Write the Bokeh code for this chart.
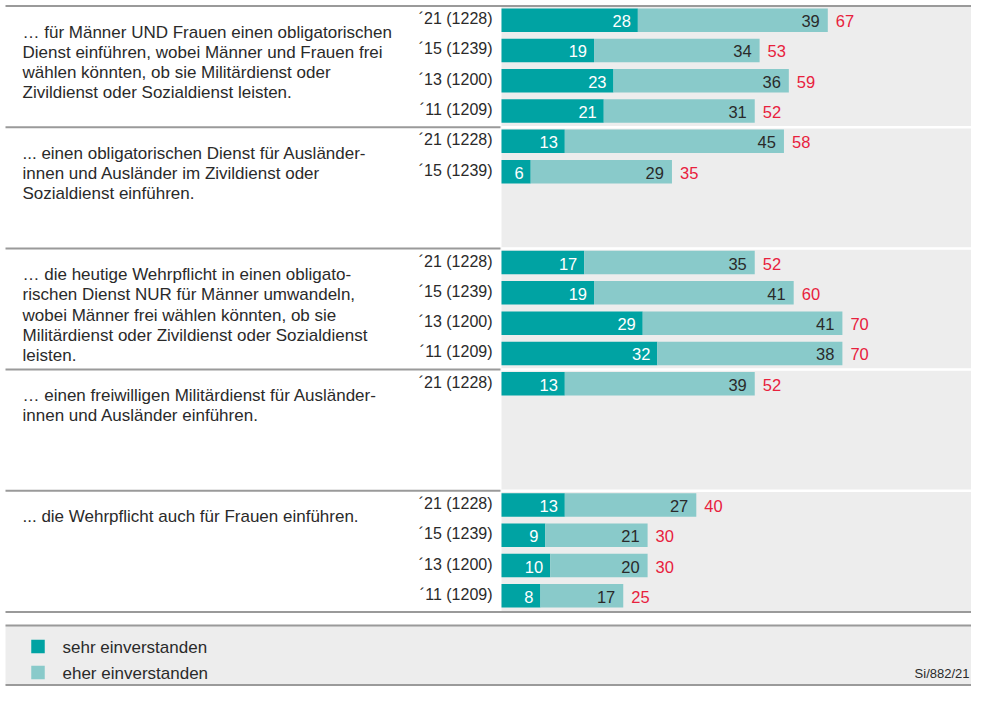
from bokeh.plotting import figure
from bokeh.models import Range1d, ColumnDataSource
from bokeh.core.properties import value
from bokeh.embed import file_html
from bokeh.resources import INLINE

# ---------------- data ----------------
questions = [
    ["… für Männer UND Frauen einen obligatorischen",
     "Dienst einführen, wobei Männer und Frauen frei",
     "wählen könnten, ob sie Militärdienst oder",
     "Zivildienst oder Sozialdienst leisten."],
    ["... einen obligatorischen Dienst für Ausländer-",
     "innen und Ausländer im Zivildienst oder",
     "Sozialdienst einführen."],
    ["… die heutige Wehrpflicht in einen obligato-",
     "rischen Dienst NUR für Männer umwandeln,",
     "wobei Männer frei wählen könnten, ob sie",
     "Militärdienst oder Zivildienst oder Sozialdienst",
     "leisten."],
    ["… einen freiwilligen Militärdienst für Ausländer-",
     "innen und Ausländer einführen."],
    ["... die Wehrpflicht auch für Frauen einführen."],
]
years = ["´21 (1228)", "´15 (1239)", "´13 (1200)", "´11 (1209)"]
sehr = [[28, 19, 23, 21], [13, 6], [17, 19, 29, 32], [13], [13, 9, 10, 8]]
eher = [[39, 34, 36, 31], [45, 29], [35, 41, 41, 38], [39], [27, 21, 20, 17]]
legend_labels = ["sehr einverstanden", "eher einverstanden"]
source_note = "Si/882/21"

# ---------------- style ----------------
W, H = 971, 686
BAR0 = 501.0          # canvas px where value 0 sits
PXU = 4.87            # px per percentage point
TOP = 5.5
P = 30.3              # slot pitch
SLOTS = 4
DARK = "#00A3A3"
LIGHT = "#89CACA"
RED = "#E8213D"
BG = "#EDEDED"
LINE = "#9A9A9A"
TXT = "#2A2A2A"
FONT = "Liberation Sans"


def X(px):
    return (px - BAR0) / PXU


p = figure(width=W, height=H, output_backend="svg", toolbar_location=None,
           x_range=Range1d(X(0), X(W)), y_range=Range1d(H, 0),
           min_border=0, outline_line_color=None)
p.axis.visible = False
p.grid.visible = False
p.background_fill_color = "white"
p.border_fill_color = "white"

n_groups = len(sehr)
bottom = TOP + P * SLOTS * n_groups

# grey panel right of labels
p.quad(left=[0], right=[X(W + 5)], top=[TOP], bottom=[bottom],
       fill_color=BG, line_color=None)

# legend panel
LEG_TOP = bottom + 13.5
LEG_BOT = H - 1.5
p.quad(left=[X(5)], right=[X(W + 5)], top=[LEG_TOP], bottom=[LEG_BOT],
       fill_color=BG, line_color=None)

# bars
ys, s_vals, e_vals, tot_vals, ylabs = [], [], [], [], []
for g in range(n_groups):
    for i in range(len(sehr[g])):
        k = g * SLOTS + i
        ys.append(TOP + P * (k + 0.5) - 1)
        s_vals.append(sehr[g][i])
        e_vals.append(eher[g][i])
        tot_vals.append(sehr[g][i] + eher[g][i])
        ylabs.append(years[i])

src = ColumnDataSource(dict(
    y=ys, sehr=s_vals, eher=e_vals, tot=tot_vals, zero=[0] * len(ys),
    s_txt=[str(v) for v in s_vals], e_txt=[str(v) for v in e_vals],
    t_txt=[str(v) for v in tot_vals], ylab=ylabs,
    lab_x=[X(492)] * len(ys)))

BH = 23.5
p.hbar(y="y", left="zero", right="sehr", height=BH, source=src,
       fill_color=DARK, line_color=None)
p.hbar(y="y", left="sehr", right="tot", height=BH, source=src,
       fill_color=LIGHT, line_color=None)

common = dict(text_font=value(FONT), text_font_size="16.5px",
              text_baseline="middle", source=src)
p.text(x="sehr", y="y", text="s_txt", text_align="right", x_offset=-7,
       y_offset=1, text_color="white", **common)
p.text(x="tot", y="y", text="e_txt", text_align="right", x_offset=-8,
       y_offset=1, text_color=TXT, **common)
p.text(x="tot", y="y", text="t_txt", text_align="left", x_offset=8,
       y_offset=1, text_color=RED, **common)
p.text(x="lab_x", y="y", text="ylab", text_align="right", text_color=TXT,
       text_font=value(FONT), text_font_size="16px", text_baseline="middle",
       y_offset=-1.5, source=src)

# group separators
for g in range(1, n_groups):
    yb = TOP + P * SLOTS * g
    p.segment(x0=[X(5)], x1=[X(500)], y0=[yb], y1=[yb], line_color=LINE,
              line_width=2)
    p.segment(x0=[0], x1=[X(W + 5)], y0=[yb], y1=[yb], line_color="white",
              line_width=2.5)

# full width lines
for yy in [TOP, bottom, LEG_TOP, LEG_BOT]:
    p.segment(x0=[X(5)], x1=[X(W + 5)], y0=[yy], y1=[yy], line_color=LINE,
              line_width=2)

# question text
qx, qy, qt = [], [], []
for g, lines in enumerate(questions):
    gtop = TOP + P * SLOTS * g
    for j, line in enumerate(lines):
        qx.append(X(22))
        qy.append(gtop + 26 + 20.3 * j)
        qt.append(line)
p.text(x=qx, y=qy, text=qt, text_font=value(FONT), text_font_size="17px",
       text_color=TXT, text_baseline="alphabetic", text_align="left")

# legend
sq_y = [LEG_TOP + 21, LEG_TOP + 47]
p.rect(x=[X(37.5)] * 2, y=sq_y, width=13.5 / PXU, height=13.5,
       fill_color=[DARK, LIGHT], line_color=None)
p.text(x=[X(62)] * 2, y=[v + 0.5 for v in sq_y], text=legend_labels,
       text_font=value(FONT), text_font_size="17px", text_color=TXT,
       text_baseline="middle", text_align="left")
p.text(x=[X(969)], y=[LEG_TOP + 48], text=[source_note],
       text_font=value(FONT), text_font_size="13px", text_color=TXT,
       text_baseline="middle", text_align="right")

open("out.html", "w").write(file_html(p, INLINE))
